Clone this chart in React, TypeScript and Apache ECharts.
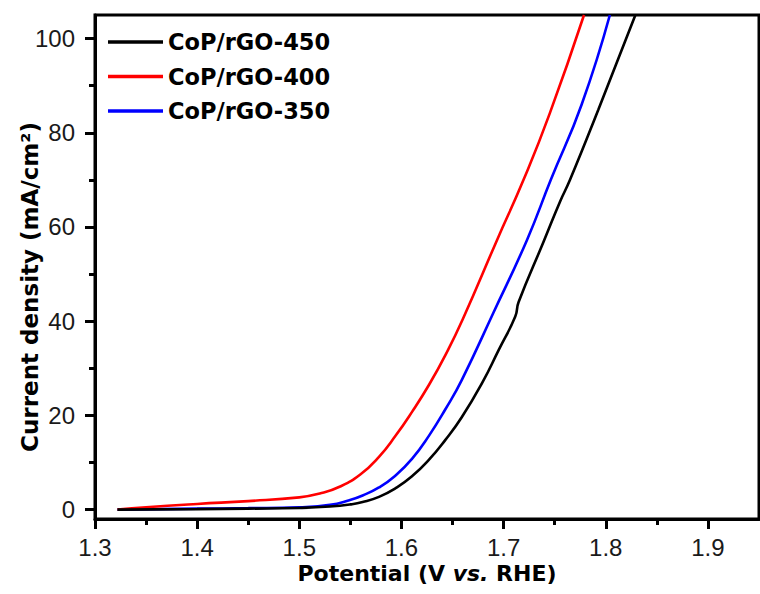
import React, { useEffect, useRef } from "react";
import * as echarts from "echarts";

// Tick values
const xTicks = [1.3, 1.4, 1.5, 1.6, 1.7, 1.8, 1.9];
const xMinorTicks = [1.35, 1.45, 1.55, 1.65, 1.75, 1.85];
const yTicks = [0, 20, 40, 60, 80, 100];
const yMinorTicks = [10, 30, 50, 70, 90];

const seriesNames = ["CoP/rGO-450", "CoP/rGO-400", "CoP/rGO-350"];
const seriesColors = ["#000000", "#ff0000", "#0000ff"];

// CoP/rGO-450 (black)
const cop450V = [1.322, 1.4, 1.45, 1.5, 1.53, 1.55, 1.562, 1.578, 1.594, 1.61, 1.627, 1.643, 1.659, 1.679, 1.695, 1.7114, 1.7146, 1.739, 1.7553, 1.765, 1.7927, 1.829];
const cop450J = [0, 0.1, 0.2, 0.35, 0.65, 1.1, 1.6, 2.7, 4.5, 7.0, 10.6, 14.8, 19.6, 26.9, 33.8, 41.0, 44.0, 56.8, 65.4, 70.0, 84.9, 105];

// CoP/rGO-400 (red)
const cop400V = [1.322, 1.35, 1.4, 1.45, 1.5, 1.52, 1.54, 1.56, 1.578, 1.594, 1.6105, 1.627, 1.643, 1.66, 1.6935, 1.7195, 1.745, 1.7787];
const cop400J = [0, 0.5, 1.2, 1.8, 2.6, 3.4, 4.9, 7.5, 11.2, 15.6, 20.8, 26.5, 32.8, 40.4, 57.2, 70, 84, 105];

// CoP/rGO-350 (blue)
const cop350V = [1.322, 1.4, 1.45, 1.5, 1.53, 1.549, 1.562, 1.578, 1.594, 1.6105, 1.627, 1.643, 1.659, 1.69, 1.7228, 1.7462, 1.7764, 1.804];
const cop350J = [0, 0.2, 0.3, 0.5, 1.0, 2.0, 3.0, 4.7, 7.2, 10.8, 15.7, 21.3, 27.5, 41.8, 57.2, 70, 86, 105];

const zip = (xs: number[], ys: number[]) => xs.map((x, i) => [x, ys[i]]);

export default function App() {
  const ref = useRef<HTMLDivElement>(null);
  useEffect(() => {
    if (!ref.current) return;
    const chart = echarts.init(ref.current, null, { renderer: "svg" });
    const tickFont = { fontFamily: "Liberation Sans, Arial, sans-serif", fontSize: 24, color: "#1a1a1a" };
    const boldFamily = "DejaVu Sans, sans-serif";
    const dataSets = [zip(cop450V, cop450J), zip(cop400V, cop400J), zip(cop350V, cop350J)];
    chart.setOption({
      animation: false,
      backgroundColor: "#ffffff",
      grid: { left: 95, top: 15, right: 1, bottom: 75, show: true, borderColor: "#000", borderWidth: 3, backgroundColor: "transparent" },
      legend: {
        orient: "vertical",
        left: 103,
        top: 25,
        itemWidth: 55,
        itemHeight: 3.5,
        itemGap: 10.5,
        data: seriesNames.map((name) => ({ name, icon: "rect" })),
        textStyle: { fontFamily: boldFamily, fontWeight: "bold", fontSize: 22.5, color: "#000", lineHeight: 24 },
      },
      xAxis: [
        {
          type: "value", min: 1.3, max: 1.95, position: "bottom",
          splitLine: { show: false },
          axisLine: { show: true, onZero: false, lineStyle: { color: "#000", width: 3 } },
          axisTick: { show: true, length: 10, customValues: xTicks, lineStyle: { color: "#000", width: 3 } },
          axisLabel: { customValues: xTicks, formatter: (v: number) => v.toFixed(1), margin: 16, ...tickFont },
        },
        {
          type: "value", min: 1.3, max: 1.95, position: "bottom",
          splitLine: { show: false },
          axisLine: { show: false, onZero: false },
          axisTick: { show: true, length: 6, customValues: xMinorTicks, lineStyle: { color: "#000", width: 3 } },
          axisLabel: { show: false },
        },
      ],
      yAxis: [
        {
          type: "value", min: -2, max: 105, position: "left",
          splitLine: { show: false },
          axisLine: { show: true, onZero: false, lineStyle: { color: "#000", width: 3 } },
          axisTick: { show: true, length: 10, customValues: yTicks, lineStyle: { color: "#000", width: 3 } },
          axisLabel: { customValues: yTicks, margin: 20, ...tickFont },
        },
        {
          type: "value", min: -2, max: 105, position: "left",
          splitLine: { show: false },
          axisLine: { show: false, onZero: false },
          axisTick: { show: true, length: 6, customValues: yMinorTicks, lineStyle: { color: "#000", width: 3 } },
          axisLabel: { show: false },
        },
      ],
      series: seriesNames.map((name, i) => ({
        name,
        type: "line",
        xAxisIndex: 0,
        yAxisIndex: 0,
        data: dataSets[i],
        symbol: "none",
        smooth: 0.5,
        color: seriesColors[i],
        lineStyle: { color: seriesColors[i], width: 2.6 },
        z: 3 - i,
      })),
      graphic: [
        {
          type: "text",
          x: 427,
          y: 573,
          style: {
            text: "{b|Potential (V }{i|vs.}{b| RHE)}",
            rich: {
              b: { fontFamily: boldFamily, fontWeight: "bold", fontSize: 22, fill: "#000" },
              i: { fontFamily: boldFamily, fontWeight: "bold", fontStyle: "italic", fontSize: 22, fill: "#000" },
            },
            textAlign: "center",
            textVerticalAlign: "middle",
          },
        },
        {
          type: "text",
          x: 30,
          y: 287,
          rotation: Math.PI / 2,
          style: {
            text: "Current density (mA/cm²)",
            fontFamily: boldFamily,
            fontWeight: "bold",
            fontSize: 23,
            fill: "#000",
            textAlign: "center",
            textVerticalAlign: "middle",
          },
        },
      ],
    });
    return () => chart.dispose();
  }, []);
  return <div ref={ref} style={{ position: "fixed", left: 0, top: 0, width: 760, height: 594, background: "#fff" }} />;
}
